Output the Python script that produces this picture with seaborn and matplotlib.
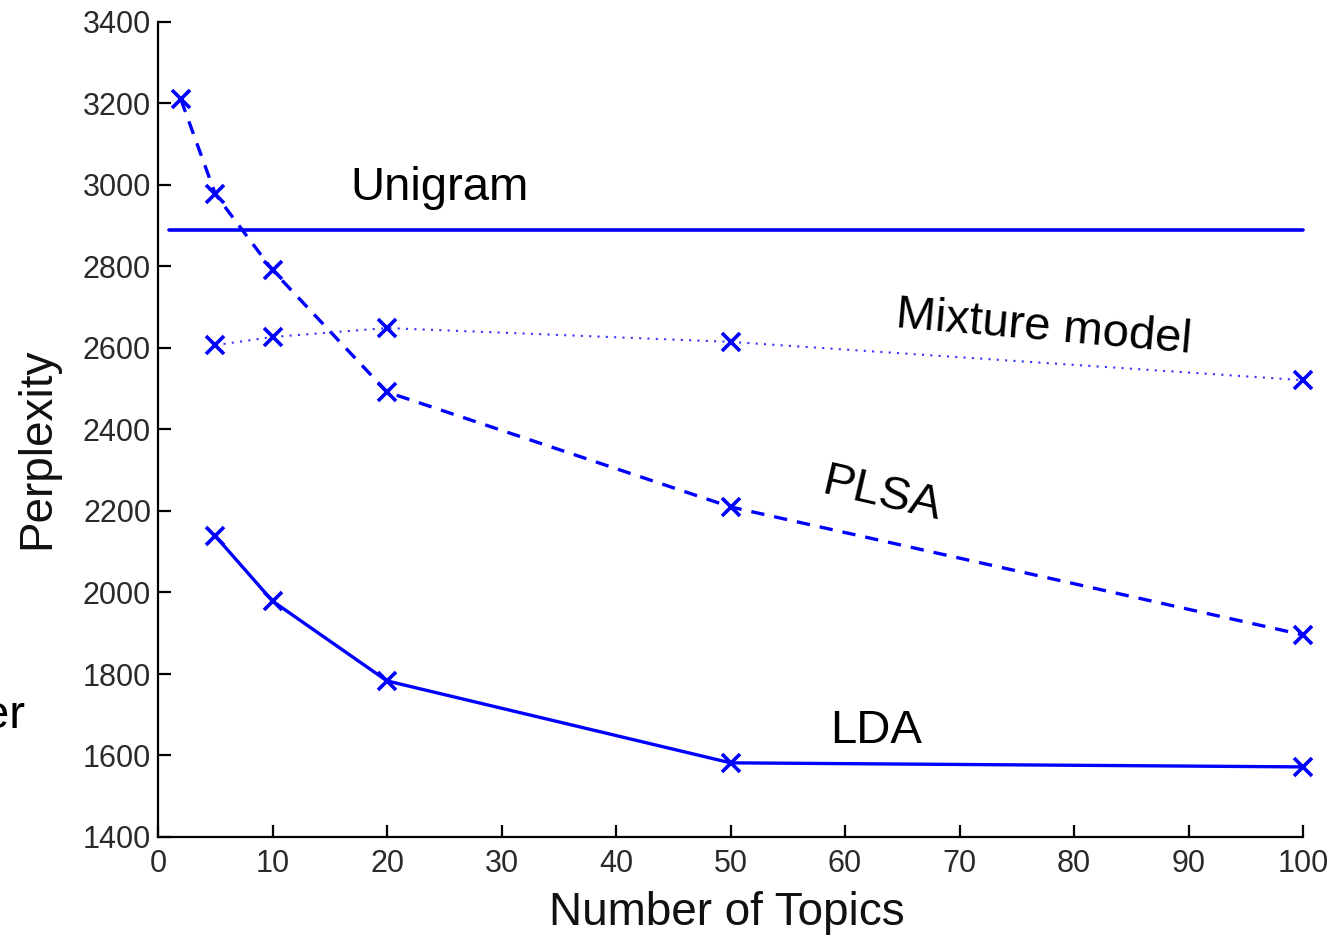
import matplotlib
matplotlib.use("Agg")
import matplotlib.pyplot as plt
import seaborn as sns

# Perplexity vs. number of topics for several document models
plsa_topics = [2, 5, 10, 20, 50, 100]
plsa_perplexity = [3210, 2978, 2791, 2492, 2210, 1896]

mixture_topics = [5, 10, 20, 50, 100]
mixture_perplexity = [2607, 2627, 2649, 2615, 2521]

lda_topics = [5, 10, 20, 50, 100]
lda_perplexity = [2139, 1979, 1783, 1582, 1572]

unigram_topics = [1, 100]
unigram_perplexity = [2890, 2890]

x_ticks = [0, 10, 20, 30, 40, 50, 60, 70, 80, 90, 100]
y_ticks = [1400, 1600, 1800, 2000, 2200, 2400, 2600, 2800, 3000, 3200, 3400]

sns.set_style("white")
plt.rcParams["font.family"] = ["Liberation Sans", "DejaVu Sans"]

W, H = 1333, 935
fig = plt.figure(figsize=(W / 100, H / 100), dpi=100)
ax = fig.add_axes([158 / W, 1 - 837 / H, (1303 - 158) / W, (837 - 22) / H])

blue = "#0000FF"
mk = dict(marker="x", markersize=13, markeredgewidth=2.6, markeredgecolor=blue)

sns.lineplot(x=unigram_topics, y=unigram_perplexity, ax=ax, color=blue,
             linewidth=2.6, linestyle="-")
sns.lineplot(x=plsa_topics, y=plsa_perplexity, ax=ax, color=blue,
             linewidth=2.4, linestyle=(0, (4, 3)), **mk)
sns.lineplot(x=mixture_topics, y=mixture_perplexity, ax=ax, color="#3333FF",
             linewidth=1.5, linestyle=(0, (1, 3)), **mk)
sns.lineplot(x=lda_topics, y=lda_perplexity, ax=ax, color=blue,
             linewidth=2.4, linestyle="-", **mk)

for line in ax.get_lines():
    line.set_clip_on(False)

ax.set_xlim(0, 100)
ax.set_ylim(1400, 3400)
ax.set_xticks(x_ticks)
ax.set_yticks(y_ticks)
ax.set_xticklabels([str(t) for t in x_ticks])
ax.set_yticklabels([str(t) for t in y_ticks])

for side in ("top", "right"):
    ax.spines[side].set_visible(False)
for side in ("left", "bottom"):
    ax.spines[side].set_color("black")
    ax.spines[side].set_linewidth(1.6)

ax.tick_params(axis="both", which="major", bottom=True, left=True,
               top=False, right=False, direction="in", length=9, width=1.6,
               color="black", labelsize=22, labelcolor="#2a2a2a")
ax.tick_params(axis="y", pad=5)
ax.tick_params(axis="x", pad=9)

ax.set_xlabel("Number of Topics", fontsize=33, color="#111111")
ax.set_ylabel("Perplexity", fontsize=33, color="#111111")
ax.xaxis.set_label_coords(0.497, -0.066)
ax.yaxis.set_label_coords(-0.086, 0.477)

# Series names placed next to their curves
ax.text(16.8, 2963, "Unigram", fontsize=34, ha="left", va="baseline",
        color="black")
ax.text(64.4, 2652, "Mixture model", fontsize=34, ha="left", va="baseline",
        rotation=-5, rotation_mode="anchor", color="black")
ax.text(57.8, 2244, "PLSA", fontsize=34, ha="left", va="baseline",
        rotation=-13, rotation_mode="anchor", color="black")
ax.text(58.7, 1631, "LDA", fontsize=34, ha="left", va="baseline",
        color="black")

# Fragment of neighbouring text at the left margin
fig.text(25 / W, 1 - 728 / H, "er", fontsize=34, ha="right", va="baseline",
         color="black")

fig.savefig("out.png", dpi=100, facecolor="white")
